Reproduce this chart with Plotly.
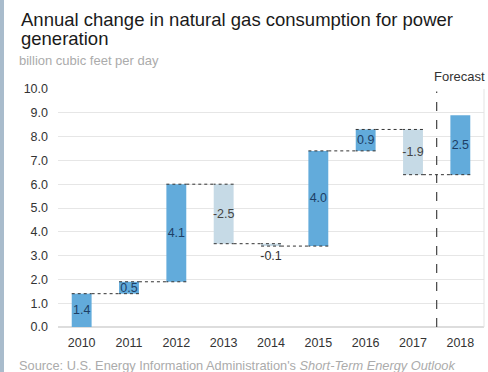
import plotly.graph_objects as go

years = ["2010", "2011", "2012", "2013", "2014", "2015", "2016", "2017", "2018"]
changes = [1.4, 0.5, 4.1, -2.5, -0.1, 4.0, 0.9, -1.9, 2.5]
labels = ["1.4", "0.5", "4.1", "-2.5", "-0.1", "4.0", "0.9", "-1.9", "2.5"]
y_ticks = [0, 1, 2, 3, 4, 5, 6, 7, 8, 9, 10]

INC = "#62abdb"
DEC = "#c6dae6"
W, H = 488, 372
ML, MR, MT, MB = 58, 4, 89, 45
PW = W - ML - MR
PH = H - MT - MB

text_pos = ["outside" if abs(c) < 0.3 and c < 0 else "inside" for c in changes]
text_col = ["#1d3f66" if c > 0 else ("#444444" if abs(c) >= 0.3 else "#333333") for c in changes]


def py(pix):
    """Convert pixel y from top of window to paper coordinate."""
    return 1 + (MT - pix) / PH


fig = go.Figure(go.Waterfall(
    x=years,
    y=changes,
    measure=["relative"] * len(years),
    text=labels,
    textposition=text_pos,
    textangle=0,
    insidetextanchor="middle",
    textfont=dict(family="Liberation Sans, Arial, sans-serif", size=12.5, color=text_col),
    constraintext="none",
    cliponaxis=False,
    increasing=dict(marker=dict(color=INC)),
    decreasing=dict(marker=dict(color=DEC)),
    connector=dict(mode="spanning", line=dict(color="#333333", width=1, dash="dot")),
    width=0.42,
    hoverinfo="skip",
))

fig.update_layout(
    width=W, height=H,
    margin=dict(l=ML, r=MR, t=MT, b=MB),
    paper_bgcolor="white",
    plot_bgcolor="white",
    showlegend=False,
    font=dict(family="Liberation Sans, Arial, sans-serif", color="#333333"),
    xaxis=dict(
        type="category", range=[-0.5, 8.5], showgrid=False, zeroline=False,
        showline=False, ticks="", ticklabelstandoff=6,
        tickfont=dict(size=12.5, color="#333333"),
    ),
    yaxis=dict(
        range=[0, 10], tickvals=y_ticks, ticktext=[f"{v:.1f}" for v in y_ticks],
        showgrid=True, gridcolor="#e6e6e6", gridwidth=1, zeroline=True,
        zerolinecolor="#dddddd", showline=False, ticks="", ticklen=0,
        ticklabelstandoff=9,
        tickfont=dict(size=12.5, color="#333333"),
    ),
    annotations=[
        dict(text="Annual change in natural gas consumption for power",
             xref="paper", yref="paper", x=-(ML - 19) / PW, y=py(20),
             xanchor="left", yanchor="middle", align="left", showarrow=False,
             font=dict(size=18.5, color="#1a1a1a")),
        dict(text="generation",
             xref="paper", yref="paper", x=-(ML - 19) / PW, y=py(38),
             xanchor="left", yanchor="middle", align="left", showarrow=False,
             font=dict(size=18.5, color="#1a1a1a")),
        dict(text="billion cubic feet per day",
             xref="paper", yref="paper", x=-(ML - 17) / PW, y=py(61),
             xanchor="left", yanchor="middle", showarrow=False,
             font=dict(size=13, color="#ababab")),
        dict(text="Forecast", xref="paper", yref="paper", x=1.008, y=py(77),
             xanchor="right", yanchor="middle", showarrow=False,
             font=dict(size=13, color="#333333")),
        dict(text="Source: U.S. Energy Information Administration's <i>Short-Term Energy Outlook</i>",
             xref="paper", yref="paper", x=-(ML - 17) / PW, y=py(365),
             xanchor="left", yanchor="middle", showarrow=False,
             font=dict(size=12.8, color="#ababab")),
    ],
    shapes=[
        dict(type="line", xref="x", yref="paper", x0=7.5, x1=7.5, y0=0, y1=0.99,
             line=dict(color="#444444", width=1.2, dash="dash")),
        dict(type="rect", xref="paper", yref="paper", x0=-ML / PW, x1=-(ML - 4) / PW,
             y0=-MB / PH, y1=1 + MT / PH,
             fillcolor="#a9bccc", line=dict(width=0)),
        dict(type="line", xref="paper", yref="paper", x0=1, x1=1, y0=0, y1=1,
             line=dict(color="#e3e3e3", width=1)),
    ],
)

fig.write_html("out.html")
